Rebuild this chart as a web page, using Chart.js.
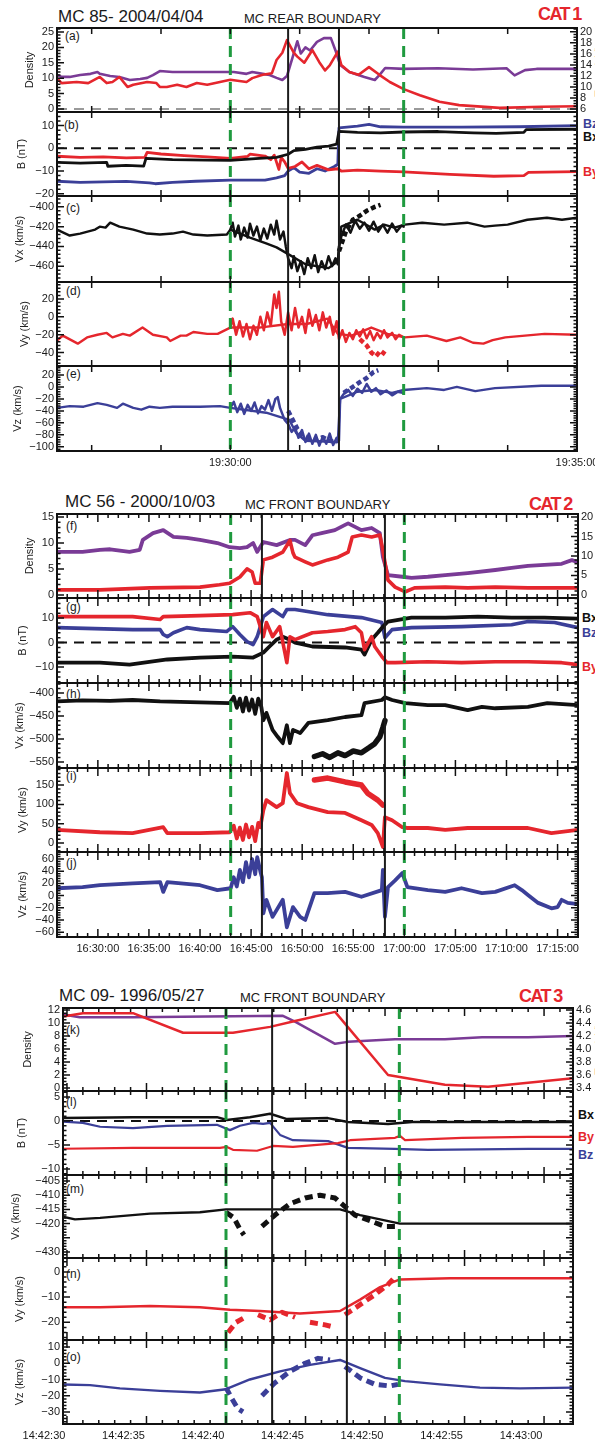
<!DOCTYPE html>
<html>
<head>
<meta charset="utf-8">
<script src="https://cdn.jsdelivr.net/npm/chart.js@4.4.1/dist/chart.umd.min.js"></script>
<style>
  html, body { margin: 0; padding: 0; background: #fff; }
  #fig { position: relative; width: 595px; height: 1443px; overflow: hidden; font-family: "Liberation Sans", Arial, sans-serif; }
  #fig canvas { position: absolute; left: 0; }
  .t { position: absolute; white-space: nowrap; line-height: 1; color: #1a1a1a; }
  .head { font-size: 17px; }
  .bound { font-size: 13px; }
  .cat { font-size: 18px; font-weight: bold; color: #e5262d; letter-spacing: -1.6px; }
  .lab { font-size: 12px; }
  .bl { font-size: 12.5px; font-weight: bold; }
  .temp { font-size: 11px; color: #e5262d; transform: rotate(-90deg); }
</style>
</head>
<body>
<div id="fig">
  <div class="t head" style="left:58px;top:8px">MC 85- 2004/04/04</div>
  <div class="t bound" style="left:244px;top:12px">MC REAR BOUNDARY</div>
  <div class="t cat" style="left:538px;top:5px">CAT 1</div>

  <div class="t head" style="left:65px;top:493px">MC 56 - 2000/10/03</div>
  <div class="t bound" style="left:245px;top:498px">MC FRONT BOUNDARY</div>
  <div class="t cat" style="left:529px;top:495px">CAT 2</div>

  <div class="t head" style="left:59px;top:987px">MC 09- 1996/05/27</div>
  <div class="t bound" style="left:240px;top:991px">MC FRONT BOUNDARY</div>
  <div class="t cat" style="left:519px;top:987px">CAT 3</div>

  <div class="t lab" style="left:65px;top:30px">(a)</div>
  <div class="t lab" style="left:64px;top:119px">(b)</div>
  <div class="t lab" style="left:66px;top:202px">(c)</div>
  <div class="t lab" style="left:66px;top:285px">(d)</div>
  <div class="t lab" style="left:66px;top:368px">(e)</div>

  <div class="t lab" style="left:66px;top:520px">(f)</div>
  <div class="t lab" style="left:66px;top:601px">(g)</div>
  <div class="t lab" style="left:66px;top:688px">(h)</div>
  <div class="t lab" style="left:66px;top:770px">(i)</div>
  <div class="t lab" style="left:66px;top:857px">(j)</div>

  <div class="t lab" style="left:66px;top:1024px">(k)</div>
  <div class="t lab" style="left:66px;top:1096px">(l)</div>
  <div class="t lab" style="left:66px;top:1183px">(m)</div>
  <div class="t lab" style="left:66px;top:1268px">(n)</div>
  <div class="t lab" style="left:66px;top:1351px">(o)</div>

  <div class="t bl" style="left:583px;top:118px;color:#3b3f98">Bz</div>
  <div class="t bl" style="left:583px;top:131px;color:#111">Bx</div>
  <div class="t bl" style="left:583px;top:166px;color:#e5262d">By</div>

  <div class="t bl" style="left:582px;top:612px;color:#111">Bx</div>
  <div class="t bl" style="left:582px;top:627px;color:#3b3f98">Bz</div>
  <div class="t bl" style="left:582px;top:661px;color:#e5262d">By</div>

  <div class="t bl" style="left:578px;top:1109px;color:#111">Bx</div>
  <div class="t bl" style="left:578px;top:1131px;color:#e5262d">By</div>
  <div class="t bl" style="left:578px;top:1149px;color:#3b3f98">Bz</div>

  <div class="t temp" style="left:574px;top:66px">Temp (eV)</div>
  <div class="t temp" style="left:574px;top:1044px">Temp (eV)</div>
</div>

<script>
Chart.defaults.font.family = "'Liberation Sans', Arial, sans-serif";
Chart.defaults.font.size = 11;
Chart.defaults.color = '#1a1a1a';

const PURPLE = '#7a3b96', RED = '#e5262d', BLUE = '#3b3f98', BLACK = '#111111';

// ---------- MC 85 (2004/04/04), time in s after 19:27:30 ----------
const a_dens = [[0,11],[4,10.4],[11,10.4],[20,11],[29,11.4],[35,12],[37,11.4],[46,10.7],[54,10.4],[63,9.4],[72,9.7],[78,10.1],[83,11],[89,12.3],[100,12],[112,12],[121,12],[130,12],[141,12],[153,12],[164,11.4],[169,12],[178,11.4],[184,11],[190,10.1],[195,9.4],[199,10.7],[204,16.9],[208,22],[211,18],[215,20],[219,19],[225,21.8],[231,23],[237,23],[241,19],[245,14.3],[253,12],[266,10.4],[275,9.4],[279,11],[284,13.3],[300,13],[330,13.2],[360,12.8],[389,13.2],[396,10.9],[405,12.6],[415,13],[450,13]];
const a_temp = [[0,11.6],[4,10.7],[17,10.9],[27,10.7],[35,11.6],[37,11.8],[43,10.7],[48,10.9],[54,11.8],[61,10],[66,10.4],[78,10.9],[86,10.7],[89,10],[95,10],[104,10.4],[112,10],[121,10.7],[130,10.4],[141,10.9],[150,11.3],[164,10.9],[169,11.6],[178,12.2],[186,12.5],[190,14.9],[195,16.2],[199,18.5],[205,16.2],[208,15.5],[214,14.4],[221,16.7],[227,14.5],[232,13],[236,13.9],[243,16.4],[246,14],[253,12.7],[261,12.2],[270,13.6],[279,12.2],[288,10.9],[300,9.6],[314,8.5],[331,7.3],[348,6.7],[383,6.2],[420,6.4],[450,6.5]];
const b_by = [[0,-3.5],[20,-4],[40,-3.8],[60,-4.2],[76,-4],[78,-1.8],[90,-2.5],[110,-3.2],[130,-3.8],[150,-4.4],[165,-3.5],[167,-2.6],[180,-3.4],[185,-5],[188,-3],[192,-9.3],[194,-4],[197,-6],[200,-8.8],[206,-8],[212,-6],[218,-9],[225,-7.5],[235,-9.5],[243,-9],[246,-10],[260,-9.6],[280,-10],[300,-10.4],[340,-11.5],[378,-12.3],[404,-12],[408,-10.6],[450,-10.3]];
const b_bx = [[0,-6.2],[20,-6.5],[43,-6.2],[44,-7.9],[60,-7.5],[75,-7.8],[77,-4.4],[100,-5],[130,-5.2],[150,-5.3],[175,-4.4],[190,-4],[200,-2.6],[205,-1],[215,-0.5],[225,0.5],[235,1],[242,1.8],[244,7.5],[260,7],[280,6.8],[300,7.2],[330,7.4],[360,6.8],[380,6.6],[404,7],[406,8.2],[450,8.4]];
const b_bz = [[0,-14.5],[20,-15],[40,-14.8],[60,-14.6],[80,-15.2],[85,-15.6],[100,-15],[120,-14.5],[150,-14],[180,-14],[190,-13],[197,-12],[200,-10],[205,-8.5],[210,-10.5],[218,-11],[225,-9],[232,-10],[240,-8],[243,-7],[244,9],[260,9.8],[270,10.6],[280,9.5],[300,9.3],[350,9.3],[400,9.5],[450,10]];
const c_vx = [[0,-423],[11,-429],[20,-427],[33,-423],[37,-420],[42,-421],[46,-416],[54,-420],[66,-423],[78,-427],[89,-428],[100,-427],[109,-425],[118,-428],[130,-429],[147,-428],[150,-423],[167,-431],[181,-437],[190,-441],[199,-447],[215,-458],[235,-462],[243,-455],[246,-420],[260,-413],[275,-423],[283,-418],[292,-421],[301,-418],[316,-416],[335,-418],[355,-416],[370,-420],[379,-419],[390,-418],[407,-413],[424,-411],[437,-413],[450,-411]];
const c_vxHi = [[150,-423],[152,-416],[154,-430],[157,-419],[159,-433],[162,-421],[165,-431],[167,-417],[170,-429],[173,-420],[176,-434],[179,-422],[182,-432],[185,-418],[188,-428],[190,-414],[193,-433],[196,-425],[198,-440],[200,-452],[203,-462],[205,-450],[208,-465],[211,-455],[214,-468],[217,-452],[220,-462],[223,-449],[226,-466],[229,-455],[232,-463],[235,-450],[238,-460],[241,-452],[243,-458],[244,-440],[246,-430],[250,-418],[254,-426],[258,-414],[262,-422],[266,-416],[270,-424],[274,-415],[278,-425],[282,-418],[286,-426],[290,-417],[294,-425],[298,-419],[300,-420]];
const c_vxDash = [[244,-445],[250,-425],[256,-413],[262,-409],[268,-404],[275,-400],[280,-398]];
const d_vy = [[0,-26.7],[5,-21],[18,-30],[26,-23],[35,-20],[43,-18],[48,-23],[57,-19],[63,-21],[74,-12],[83,-20],[95,-23],[98,-27],[107,-21],[112,-21],[118,-17],[130,-19],[139,-19],[150,-12],[175,-12],[200,-8],[216,-8],[234,-2],[243,-19],[255,-21],[272,-12],[286,-19],[301,-23],[320,-21],[337,-27],[349,-23],[360,-29],[369,-30],[377,-26],[388,-23],[405,-21],[422,-19],[450,-20]];
const d_vyHi = [[150,-12],[152,-2],[155,-20],[158,-5],[161,-22],[164,-8],[167,-25],[170,-10],[173,-20],[176,0],[179,-15],[182,5],[185,-10],[188,25],[190,10],[192,28],[194,-5],[197,-20],[200,5],[203,-15],[206,10],[209,-12],[212,0],[215,-18],[218,8],[221,-10],[224,2],[227,-15],[230,5],[233,-12],[236,0],[239,-20],[242,-5],[244,-25],[247,-15],[250,-28],[253,-18],[256,-25],[259,-15],[262,-22],[265,-14],[268,-24],[271,-16],[274,-26],[277,-18],[280,-24],[283,-15],[286,-23],[290,-18],[293,-25],[296,-20],[300,-23]];
const d_vyDash = [[262,-25],[268,-32],[272,-40],[276,-44],[280,-38],[284,-42]];
const e_vz = [[0,-35],[11,-32],[23,-33],[35,-27],[43,-30],[52,-35],[57,-28],[66,-35],[73,-38],[80,-33],[89,-35],[100,-33],[112,-33],[124,-33],[141,-32],[150,-35],[181,-43],[201,-55],[207,-77],[215,-90],[243,-92],[245,-20],[260,-8],[275,-5],[290,-10],[300,-5],[320,-2],[335,-5],[346,0],[362,-7],[379,-2],[419,2],[450,2]];
const e_vzHi = [[150,-35],[153,-25],[156,-42],[159,-28],[162,-45],[165,-30],[168,-40],[171,-26],[174,-44],[177,-32],[180,-38],[183,-22],[186,-40],[189,-20],[191,-17],[193,-35],[195,-45],[197,-55],[200,-62],[203,-75],[206,-68],[209,-85],[212,-72],[215,-92],[218,-78],[221,-95],[224,-80],[227,-98],[230,-83],[233,-95],[236,-78],[239,-97],[242,-85],[244,-90],[245,-20],[248,-12],[252,-5],[256,-15],[260,-3],[264,-10],[268,5],[272,-8],[276,-2],[280,-12],[285,-6],[290,-14],[295,-8],[300,-10]];
const e_vzDash1 = [[200,-40],[204,-55],[208,-70],[212,-80],[218,-85],[224,-88],[230,-84],[236,-90],[242,-92]];
const e_vzDash2 = [[248,-10],[256,0],[262,8],[268,15],[274,25],[278,28]];

// ---------- MC 56 (2000/10/03), time in min after 16:26:00 ----------
const f_dens = [[0,8.3],[2.5,8.3],[4.2,8.7],[5.2,8.8],[7.1,8.3],[8.1,8.7],[8.4,10.6],[9.4,11.9],[10.4,12.5],[11.4,11.2],[12.7,11],[14,10.6],[15.7,10],[16.9,9.2],[17.9,9],[18.6,9.2],[19.2,10],[19.6,8.3],[20.2,10.2],[21.5,9.6],[22.8,10.6],[23.3,10.6],[24.3,9.6],[25,11.5],[25.9,11.9],[27.2,12.5],[28.2,13.5],[28.5,13.8],[29.8,12.5],[30.8,12.9],[31.6,11.9],[31.9,7.3],[32.4,3.8],[33.8,3.5],[34.7,3.3],[36.3,3.5],[38,3.8],[40.2,4.2],[42.9,4.8],[44.5,5.2],[46.1,5.6],[47.7,5.8],[49.4,6],[50.4,6.7],[51,6.3]];
const f_temp = [[0,1.3],[4.2,1.3],[9.1,1.8],[14,2],[15.9,2.6],[16.9,3],[17.9,4.6],[18.6,6.7],[19.1,5.9],[19.4,3],[19.9,3],[20.2,9],[21.1,9.7],[22.1,11],[22.8,14],[23.1,10.8],[23.3,9.7],[24.3,8.5],[25,7.7],[26.5,9],[27.5,9.7],[28.5,11],[28.9,14.9],[29.8,15.4],[30.8,14.9],[31.6,15.4],[31.9,11.5],[32.4,3.8],[33.1,2],[34.1,0.8],[35,1.8],[38,2],[40.2,1.8],[42.9,2],[46.1,1.8],[49.4,1.8],[51,1.8]];
const g_by = [[0,10.6],[7.4,10.6],[10.1,9.4],[10.4,10.6],[14,11],[17.2,11.4],[18.9,12.2],[19.6,10.6],[20.2,2.4],[20.5,8.2],[21.1,2.4],[21.8,6.5],[22.5,-8.2],[22.8,2.4],[23.3,1.2],[25,4],[26.5,4.5],[28.2,5.3],[29.2,6.5],[29.8,4],[30.1,-2.9],[30.8,2.4],[31.1,-1.6],[31.8,-5.7],[32.3,-8.2],[33.1,-8.2],[36.3,-7.8],[39.6,-8.2],[42.9,-7.8],[46.1,-7.8],[49.4,-8.2],[51,-9]];
const g_bz = [[0,6.1],[7.4,5.3],[10.1,5.3],[10.4,3.3],[10.8,2.4],[11.4,4],[12.7,6.1],[14,5.3],[16.6,4.5],[17.2,6.5],[17.9,3.3],[18.6,0.4],[19.2,-0.8],[19.6,2.4],[20.2,10.6],[21.1,13.5],[22.1,10.6],[22.5,13.5],[23.3,13.5],[26.5,11.4],[29.8,10.2],[31.8,8.2],[32.1,2],[32.8,5.3],[34.7,6.1],[39.6,6.5],[44.5,7.3],[46.1,8.6],[48.7,8.2],[51,6.1]];
const g_bx = [[0,-8.2],[4.2,-8.2],[7.1,-9],[10.8,-6.9],[14,-6.1],[17.2,-5.7],[19.2,-6.1],[20.2,-4.1],[20.8,-1.6],[21.5,1.2],[22.1,2.4],[22.8,1.2],[23.3,0],[25,-1.6],[28.2,-2],[29.8,-2.9],[30.1,-4.9],[30.8,1.2],[31.4,4],[31.9,6.5],[32.4,8.6],[34.7,10.2],[38,10.2],[41.2,10.6],[44.5,10.2],[47.7,10.2],[51,9.8]];
const h_vx = [[0,-418],[2.5,-416],[5.2,-417],[7.4,-415],[10.1,-418],[14,-420],[16.9,-422],[17.3,-408],[17.6,-432],[17.9,-412],[18.2,-440],[18.5,-410],[18.8,-438],[19.1,-414],[19.4,-445],[19.7,-412],[20,-430],[20.2,-459],[20.5,-443],[21.1,-480],[21.6,-495],[22.1,-509],[22.5,-470],[22.8,-509],[23.1,-480],[23.8,-487],[24.6,-465],[26.5,-459],[28.2,-452],[29.8,-448],[30.1,-422],[31.8,-415],[32.1,-409],[32.8,-415],[34.1,-422],[36.3,-426],[38,-426],[40.2,-437],[41.6,-430],[42.9,-433],[46.1,-430],[48,-422],[51,-426]];
const h_vxLow = [[25.2,-538],[26,-532],[26.7,-540],[27.5,-530],[28.2,-536],[29,-526],[29.8,-530],[30.6,-518],[31.1,-510],[31.6,-495],[31.9,-475],[32.1,-460]];
const i_vy = [[0,34],[4.2,28],[7.4,26],[10.4,41],[10.8,26],[14,26],[16.9,28],[17.3,45],[17.6,12],[17.9,40],[18.2,8],[18.5,48],[18.8,15],[19.1,42],[19.4,5],[19.7,52],[19.9,41],[20.2,85],[20.5,111],[21.5,93],[22.1,103],[22.5,181],[22.8,129],[23.5,103],[24.6,93],[26.5,80],[28.2,78],[29.8,59],[30.8,47],[31.4,26],[31.9,-10],[32.1,67],[32.8,59],[33.8,41],[34.3,39],[36.3,39],[38,34],[40.2,39],[42.9,39],[46.1,39],[48.4,26],[51,34]];
const i_vyUp = [[25.2,163],[26.5,168],[28.2,158],[29.8,150],[30.4,129],[31.4,111],[31.9,98]];
const j_vz = [[0,12],[2.5,14],[4.2,17],[7.4,20],[10.1,22],[10.4,6],[10.8,22],[14,17],[15.7,9],[17,12],[17.3,30],[17.6,15],[17.9,42],[18.2,22],[18.5,55],[18.8,30],[19.1,60],[19.4,35],[19.6,63],[19.9,40],[20.06,30],[20.2,-29],[20.5,-7],[21.1,-35],[22.1,-7],[22.5,-52],[23.1,-19],[23.8,-35],[24.3,-40],[25.2,4],[26.5,4],[28.2,6],[29.8,-2],[31.8,9],[31.9,42],[32.1,-35],[32.4,14],[33.1,25],[33.8,37],[34.3,14],[36.3,9],[38,6],[39.6,12],[41.6,4],[42.9,6],[44.8,17],[45.5,9],[46.1,1],[47.1,-12],[48.4,-21],[49,-19],[49.4,-7],[50,-12],[51,-14]];

// ---------- MC 09 (1996/05/27), time in s after 14:42:30 ----------
const k_dens = [[-0.75,11.5],[0.8,10.9],[4.15,10.9],[13.58,11.1],[14.34,10.2],[16.86,6.8],[17.67,7.1],[20.63,7.5],[23.77,7.5],[26.1,7.8],[29,7.8],[31.82,8]];
const k_temp = [[-0.75,4.48],[1,4.55],[4.15,4.55],[7.3,4.25],[10.44,4.25],[12.77,4.34],[14.34,4.43],[16.86,4.57],[20.19,3.6],[23.77,3.45],[26.48,3.42],[31.82,3.55]];
const l_bx = [[-0.75,0.6],[4.15,0.8],[9.43,0.8],[10.06,0.2],[11.5,0.8],[12.77,1.5],[13.84,0.4],[16.4,0.6],[17.67,-0.2],[20.19,-0.6],[21.7,-0.2],[31.82,-0.2]];
const l_bz = [[-0.75,0],[1,-0.4],[2.08,-1.2],[4.15,-1.5],[6.29,-1],[9.43,-0.8],[10.25,-1.9],[10.88,-1],[11.7,-0.4],[12.33,-0.6],[12.77,-0.4],[13.4,-2.9],[14.21,-4],[16.42,-4.2],[17.67,-5.6],[20.63,-5.8],[22.7,-6],[29,-5.8],[31.82,-5.8]];
const l_by = [[-0.75,-5.8],[4.15,-5.6],[9.62,-5.6],[10.06,-5.4],[10.44,-6],[11.95,-6.2],[12.96,-5.2],[14.21,-5.4],[17.04,-4.6],[17.8,-4],[20.63,-3.5],[20.94,-3.1],[21.26,-4],[24.84,-3.5],[29,-3.3],[31.82,-3.3]];
const m_vx = [[-0.75,-417],[0.5,-418.5],[2.08,-418],[5.22,-416.5],[8.36,-416],[10,-415],[11.5,-415],[17.17,-415],[18.43,-417],[20.94,-420],[31.82,-420]];
const m_vxDash = [[10,-416],[10.5,-418],[10.88,-422],[11.13,-424],[11.6,null],[12.26,-421],[13.08,-417],[14.03,-413],[14.97,-411],[15.91,-410],[16.86,-411],[17.48,-414],[18.11,-417],[19.06,-419],[20,-421],[20.63,-421]];
const n_vy = [[-0.75,-14],[2.08,-14],[5.22,-13.5],[8.36,-14],[10.25,-15],[12.14,-15.5],[14.65,-16.5],[17.17,-15.5],[18.43,-11],[19.69,-6],[20.94,-3],[24.09,-2.5],[31.82,-2.5]];
const n_vyDash = [[10.13,-24],[10.63,-20],[11.19,-18],[11.6,null],[12.01,-17],[12.77,-19],[13.52,-16],[14.34,-18],[14.8,null],[15.28,-20],[16.23,-21],[16.86,-22],[17.2,null],[17.48,-17],[18.43,-13],[19.37,-9],[20.19,-5],[20.63,-2]];
const o_vz = [[-0.75,-13],[1.45,-13.5],[3.33,-15.5],[5.85,-17],[8.36,-18],[10,-16],[11.5,-10],[13.4,-5],[15.28,-1],[17.17,2],[18.43,-3],[20,-9],[21.26,-11],[23.46,-13],[25.97,-15],[28.49,-15.5],[31.82,-15]];
const o_vzDash = [[10,-15],[10.38,-22],[10.75,-28],[11.07,-30],[11.6,null],[12.26,-20],[13.08,-12],[14.03,-5],[14.97,0],[15.79,3],[16.54,2],[17,null],[17.48,-2],[18.43,-9],[19.37,-13],[20.31,-14],[20.82,-13]];

// boundary times (green = dashed, black = MC boundary)
const g1Green = [150, 300], g1Black = [200, 244];
const g2Green = [17, 34], g2Black = [20.06, 32.1];
const g3Green = [10, 20.9], g3Black = [12.9, 17.6];

// time axis ticks and the labels written under them
const g1Ticks = ['19:28:00', '19:29:00', '19:30:00', '19:31:00', '19:32:00', '19:33:00', '19:34:00', '19:35:00'];
const g1Labels = ['19:30:00', '19:35:00'];
const g2Ticks = ['16:30:00', '16:35:00', '16:40:00', '16:45:00', '16:50:00', '16:55:00', '17:00:00', '17:05:00', '17:10:00', '17:15:00'];
const g2Labels = g2Ticks;
const g3Ticks = ['14:42:30', '14:42:35', '14:42:40', '14:42:45', '14:42:50', '14:42:55', '14:43:00'];
const g3Labels = g3Ticks;

function sec(s) {
  const p = s.split(':').map(Number);
  return p[0] * 3600 + p[1] * 60 + p[2];
}
function hms(v) {
  const s = Math.round(v);
  const p = n => String(n).padStart(2, '0');
  return p(Math.floor(s / 3600)) + ':' + p(Math.floor(s / 60) % 60) + ':' + p(s % 60);
}
function num(v, step) {
  const d = step < 1 ? 1 : 0;
  const t = Math.abs(v).toFixed(d);
  return v < 0 ? '\u2212' + t : t;
}

const groups = {
  g1: { base: 70050, unit: 1, left: 57, right: 577, xMin: 70050, xMax: 70500,
        ticks: g1Ticks, labels: g1Labels,
        xMinor: 60, xMajor: 60, majLen: 6, minLen: 6, off: 0, green: g1Green, black: g1Black },
  g2: { base: 59160, unit: 60, left: 57, right: 578, xMin: 59160, xMax: 62220,
        ticks: g2Ticks, labels: g2Labels,
        xMinor: 60, xMajor: 300, majLen: 8, minLen: 4, off: 0, green: g2Green, black: g2Black },
  g3: { base: 52950, unit: 1, left: 63, right: 573, xMin: 52949.75, xMax: 52981.82,
        ticks: g3Ticks, labels: g3Labels,
        xMinor: 1, xMajor: 5, majLen: 8, minLen: 4, off: -23, green: g3Green, black: g3Black }
};

function line(g, pts, color, width, opts) {
  opts = opts || {};
  return {
    data: pts.map(p => ({ x: g.base + p[0] * g.unit, y: p[1] })),
    borderColor: color, borderWidth: width, yAxisID: opts.axis || 'y',
    borderDash: opts.dash || [], pointRadius: 0, tension: 0, fill: false,
    borderJoinStyle: 'round', borderCapStyle: opts.dash ? 'butt' : 'round', spanGaps: false
  };
}
function zero(g, color, axis) {
  return {
    data: [{ x: g.xMin, y: 0 }, { x: g.xMax, y: 0 }],
    borderColor: color, borderWidth: 2, borderDash: [10, 7], yAxisID: axis || 'y',
    pointRadius: 0, fill: false
  };
}

// draws box, inward ticks and boundary markers
const frame = {
  id: 'frame',
  afterDatasetsDraw(chart, args, o) {
    const { ctx, chartArea: a, scales } = chart;
    const x = scales.x;
    ctx.save();
    ctx.beginPath();
    ctx.rect(a.left, a.top, a.right - a.left, a.bottom - a.top);
    ctx.clip();
    const vline = (t, color, w, dash) => {
      const px = x.getPixelForValue(o.base + t * o.unit);
      ctx.beginPath();
      ctx.setLineDash(dash);
      ctx.strokeStyle = color;
      ctx.lineWidth = w;
      ctx.moveTo(px, a.top);
      ctx.lineTo(px, a.bottom);
      ctx.stroke();
    };
    o.black.forEach(t => vline(t, '#1c1c1c', 2, []));
    o.green.forEach(t => vline(t, '#1f9a3f', 3, [11, 7]));
    ctx.restore();

    ctx.save();
    ctx.strokeStyle = '#111';
    ctx.lineWidth = 1.5;
    ctx.setLineDash([]);
    ctx.beginPath();
    const seg = (x1, y1, x2, y2) => { ctx.moveTo(x1, y1); ctx.lineTo(x2, y2); };
    for (let k = Math.ceil(x.min / o.xMinor - 1e-9); k * o.xMinor <= x.max + 1e-9; k++) {
      const v = k * o.xMinor, px = x.getPixelForValue(v);
      const len = v % o.xMajor === 0 ? o.majLen : o.minLen;
      seg(px, a.top, px, a.top + len);
      seg(px, a.bottom, px, a.bottom - len);
    }
    const yTicks = (s, minor, step, sides) => {
      for (let k = Math.ceil(s.min / minor - 1e-6); k * minor <= s.max + 1e-9; k++) {
        const v = k * minor, py = s.getPixelForValue(v);
        const r = v / step;
        const len = Math.abs(r - Math.round(r)) < 1e-6 ? 7 : 3.5;
        if (sides.includes('l')) seg(a.left, py, a.left + len, py);
        if (sides.includes('r')) seg(a.right, py, a.right - len, py);
      }
    };
    if (scales.y2) {
      yTicks(scales.y, o.yMinor, o.yStep, 'l');
      yTicks(scales.y2, o.y2Minor, o.y2Step, 'r');
    } else {
      yTicks(scales.y, o.yMinor, o.yStep, 'lr');
    }
    ctx.stroke();
    ctx.lineWidth = 2;
    ctx.strokeRect(a.left, a.top, a.right - a.left, a.bottom - a.top);
    ctx.restore();
  }
};

function panel(g, p) {
  const padT = 10, padB = p.last ? 0 : 10, axisH = p.last ? 24 : 0;
  const H = p.bottom - p.top + padT + padB + axisH;
  const cv = document.createElement('canvas');
  cv.width = 595;
  cv.height = H;
  cv.style.top = (p.top - padT) + 'px';
  cv.style.width = '595px';
  cv.style.height = H + 'px';
  document.getElementById('fig').appendChild(cv);

  const yAxis = (s, pos) => ({
    type: 'linear', position: pos, min: s.min, max: s.max,
    grid: { display: false, drawTicks: false }, border: { display: false },
    ticks: {
      stepSize: s.step, includeBounds: false, autoSkip: false, padding: 3,
      color: '#1a1a1a', font: { size: 11 },
      callback: v => (s.skip && s.skip.includes(v)) ? '' : num(v, s.step)
    },
    title: s.title
      ? { display: true, text: s.title, color: '#222', font: { size: 11 }, padding: { top: s.tx - 6.6, bottom: 0 } }
      : { display: false },
    afterFit: sc => {
      sc.width = pos === 'left' ? g.left : 595 - g.right;
      sc.paddingTop = 0;
      sc.paddingBottom = 0;
    }
  });

  const scales = {
    x: {
      type: 'linear', min: g.xMin, max: g.xMax, display: !!p.last,
      grid: { display: false, drawTicks: false }, border: { display: false },
      ticks: {
        autoSkip: false, maxRotation: 0, minRotation: 0,
        padding: 5, labelOffset: g.off, color: '#1a1a1a', font: { size: 11 },
        callback: v => (g.labels.includes(hms(v)) ? hms(v) : '')
      },
      afterBuildTicks: sc => { sc.ticks = g.ticks.map(t => ({ value: sec(t) })); },
      afterFit: sc => { sc.height = axisH; sc.paddingLeft = 0; sc.paddingRight = 0; }
    },
    y: yAxis(p.y, 'left')
  };
  if (p.y2) scales.y2 = yAxis(p.y2, 'right');

  new Chart(cv, {
    type: 'line',
    data: { datasets: p.sets },
    options: {
      responsive: false, animation: false, devicePixelRatio: 1, events: [],
      layout: { padding: { top: padT, bottom: padB, left: 0, right: p.y2 ? 0 : 595 - g.right } },
      scales,
      plugins: {
        legend: { display: false }, tooltip: { enabled: false },
        frame: {
          base: g.base, unit: g.unit, green: g.green, black: g.black,
          xMinor: g.xMinor, xMajor: g.xMajor, majLen: g.majLen, minLen: g.minLen,
          yMinor: p.y.minor, yStep: p.y.step,
          y2Minor: p.y2 ? p.y2.minor : 1, y2Step: p.y2 ? p.y2.step : 1
        }
      }
    },
    plugins: [frame]
  });
}

const G1 = groups.g1, G2 = groups.g2, G3 = groups.g3;

// ---- CAT 1 ----
panel(G1, { top: 28, bottom: 112,
  y: { min: -1, max: 26.3, step: 5, minor: 1, title: 'Density', tx: 30 },
  y2: { min: 5.45, max: 20.7, step: 2, minor: 0.5 },
  sets: [line(G1, a_temp, RED, 2.6, { axis: 'y2' }), line(G1, a_dens, PURPLE, 2.6), zero(G1, '#9a9a9a')] });
panel(G1, { top: 112, bottom: 196,
  y: { min: -21, max: 16, step: 10, minor: 2, title: 'B (nT)', tx: 22 },
  sets: [line(G1, b_bx, BLACK, 2.8), line(G1, b_by, RED, 2.8), line(G1, b_bz, BLUE, 2.8), zero(G1, BLACK)] });
panel(G1, { top: 196, bottom: 282,
  y: { min: -476, max: -389, step: 20, minor: 4, title: 'Vx (km/s)', tx: 20 },
  sets: [line(G1, c_vxDash, BLACK, 4.5, { dash: [5, 3] }), line(G1, c_vxHi, BLACK, 2.5), line(G1, c_vx, BLACK, 2.4)] });
panel(G1, { top: 282, bottom: 366,
  y: { min: -55, max: 39, step: 20, minor: 4, title: 'Vy (km/s)', tx: 25 },
  sets: [line(G1, d_vyDash, RED, 4.5, { dash: [5, 3] }), line(G1, d_vyHi, RED, 2.5), line(G1, d_vy, RED, 2.4)] });
panel(G1, { top: 366, bottom: 451, last: true,
  y: { min: -107, max: 35, step: 20, minor: 4, title: 'Vz (km/s)', tx: 18 },
  sets: [line(G1, e_vzDash1, BLUE, 4.5, { dash: [5, 3] }), line(G1, e_vzDash2, BLUE, 4.5, { dash: [5, 3] }),
         line(G1, e_vzHi, BLUE, 2.5), line(G1, e_vz, BLUE, 2.4)] });

// ---- CAT 2 ----
panel(G2, { top: 514, bottom: 598,
  y: { min: -0.6, max: 15.6, step: 5, minor: 1, title: 'Density', tx: 30 },
  y2: { min: -0.8, max: 20.8, step: 5, minor: 1 },
  sets: [line(G2, f_temp, RED, 3.6, { axis: 'y2' }), line(G2, f_dens, PURPLE, 3.8)] });
panel(G2, { top: 598, bottom: 683,
  y: { min: -16.5, max: 18.2, step: 10, minor: 2, title: 'B (nT)', tx: 23 },
  sets: [line(G2, g_by, RED, 3.6), line(G2, g_bx, BLACK, 3.8), line(G2, g_bz, BLUE, 3.6), zero(G2, BLACK)] });
panel(G2, { top: 683, bottom: 768,
  y: { min: -563, max: -378, step: 50, minor: 10, title: 'Vx (km/s)', tx: 20 },
  sets: [line(G2, h_vx, BLACK, 3.8), line(G2, h_vxLow, BLACK, 5.5)] });
panel(G2, { top: 768, bottom: 852,
  y: { min: -23, max: 194, step: 50, minor: 10, title: 'Vy (km/s)', tx: 23 },
  sets: [line(G2, i_vy, RED, 3.8), line(G2, i_vyUp, RED, 5.5)] });
panel(G2, { top: 852, bottom: 937, last: true,
  y: { min: -68, max: 71.5, step: 20, minor: 4, title: 'Vz (km/s)', tx: 23 },
  sets: [line(G2, j_vz, BLUE, 3.8)] });

// ---- CAT 3 ----
panel(G3, { top: 1008, bottom: 1091,
  y: { min: -0.46, max: 12.31, step: 2, minor: 0.5, title: 'Density', tx: 28 },
  y2: { min: 3.354, max: 4.63, step: 0.2, minor: 0.05 },
  sets: [line(G3, k_temp, RED, 2.5, { axis: 'y2' }), line(G3, k_dens, PURPLE, 2.5)] });
panel(G3, { top: 1091, bottom: 1175,
  y: { min: -11.25, max: 6.25, step: 5, minor: 1, title: 'B (nT)', tx: 22 },
  sets: [line(G3, l_bx, BLACK, 2.5), line(G3, l_by, RED, 2.2), line(G3, l_bz, BLUE, 2.2), zero(G3, BLACK)] });
panel(G3, { top: 1175, bottom: 1258,
  y: { min: -432.1, max: -402.9, step: 5, minor: 1, title: 'Vx (km/s)', tx: 16, skip: [-425] },
  sets: [line(G3, m_vxDash, BLACK, 5, { dash: [8, 5] }), line(G3, m_vx, BLACK, 2.4)] });
panel(G3, { top: 1258, bottom: 1340,
  y: { min: -27, max: 5.5, step: 10, minor: 2, title: 'Vy (km/s)', tx: 20 },
  sets: [line(G3, n_vyDash, RED, 5, { dash: [8, 5] }), line(G3, n_vy, RED, 2.4)] });
panel(G3, { top: 1340, bottom: 1424, last: true,
  y: { min: -37.4, max: 14.3, step: 10, minor: 2, title: 'Vz (km/s)', tx: 20 },
  sets: [line(G3, o_vzDash, BLUE, 5, { dash: [8, 5] }), line(G3, o_vz, BLUE, 2.4)] });
</script>
</body>
</html>
